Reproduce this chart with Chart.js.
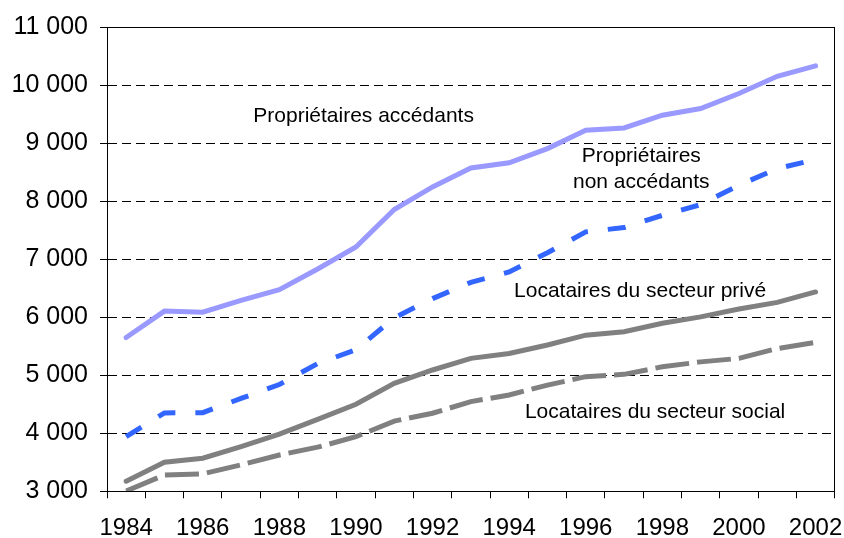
<!DOCTYPE html>
<html>
<head>
<meta charset="utf-8">
<script src="https://cdn.jsdelivr.net/npm/chart.js@4.4.1/dist/chart.umd.min.js"></script>
<style>
  html, body { margin: 0; padding: 0; background: #fff; }
  #wrap { width: 844px; height: 538px; }
</style>
</head>
<body>
<div id="wrap"><canvas id="chart"></canvas></div>
<script>
/* ======== Data ======== */
const years = ['1984', '1985', '1986', '1987', '1988', '1989', '1990', '1991', '1992', '1993',
               '1994', '1995', '1996', '1997', '1998', '1999', '2000', '2001', '2002'];
const tickYears = ['1984', '1986', '1988', '1990', '1992', '1994', '1996', '1998', '2000', '2002'];

const proprioAccedants = [5650, 6105, 6085, 6290, 6475, 6830, 7210, 7855, 8245, 8570,
                          8660, 8905, 9220, 9260, 9480, 9595, 9855, 10150, 10330];
const proprioNonAccedants = [3940, 4350, 4355, 4600, 4840, 5200, 5440, 5990, 6320, 6600,
                             6780, 7110, 7470, 7545, 7755, 7940, 8275, 8560, 8715];
const locatairesPrive = [3175, 3500, 3570, 3770, 3985, 4240, 4500, 4860, 5090, 5290,
                         5375, 5520, 5690, 5750, 5895, 6005, 6140, 6255, 6435];
const locatairesSocial = [3005, 3280, 3300, 3455, 3625, 3760, 3940, 4210, 4345, 4545,
                          4660, 4830, 4975, 5015, 5145, 5230, 5290, 5460, 5565];

const yMin = 3000, yMax = 11000, yStep = 1000;

// series labels, anchored in data space (category index, value)
const seriesLabels = [
  { text: 'Propriétaires accédants', idx: 6.2, value: 9460 },
  { text: 'Propriétaires', idx: 13.45, value: 8775 },
  { text: 'non accédants', idx: 13.45, value: 8320 },
  { text: 'Locataires du secteur privé', idx: 13.42, value: 6450 },
  { text: 'Locataires du secteur social', idx: 13.81, value: 4360 }
];

/* ======== Helpers ======== */
const FONT = "'Liberation Sans', Arial, sans-serif";
const fmt = (v) => String(v).replace(/\B(?=(\d{3})+(?!\d))/g, ' ');

const frameAndLabels = {
  id: 'frameAndLabels',
  afterDraw(chart) {
    const { ctx, chartArea: a, scales: { x, y } } = chart;
    ctx.save();
    ctx.strokeStyle = '#000';
    ctx.lineWidth = 1;
    ctx.strokeRect(Math.round(a.left) + 0.5, Math.round(a.top) + 0.5,
                   Math.round(a.right - a.left) - 1, Math.round(a.bottom - a.top));
    ctx.fillStyle = '#000';
    ctx.font = '21px ' + FONT;
    ctx.textAlign = 'center';
    ctx.textBaseline = 'middle';
    seriesLabels.forEach(l => {
      ctx.fillText(l.text, x.getPixelForValue(l.idx), y.getPixelForValue(l.value));
    });
    ctx.restore();
  }
};

/* ======== Chart ======== */
new Chart(document.getElementById('chart'), {
  type: 'line',
  data: {
    labels: years,
    datasets: [
      { label: 'Propriétaires accédants', data: proprioAccedants,
        borderColor: '#9999ff', borderWidth: 5, borderCapStyle: 'round' },
      { label: 'Propriétaires non accédants', data: proprioNonAccedants,
        borderColor: '#3366ff', borderWidth: 5, borderDash: [18, 20] },
      { label: 'Locataires du secteur privé', data: locatairesPrive,
        borderColor: '#808080', borderWidth: 5, borderCapStyle: 'round' },
      { label: 'Locataires du secteur social', data: locatairesSocial,
        borderColor: '#808080', borderWidth: 5, borderDash: [34, 8] }
    ]
  },
  options: {
    responsive: true,
    maintainAspectRatio: false,
    animation: false,
    layout: { padding: { top: 26.7, right: 9.3, bottom: 0, left: 0 } },
    elements: { point: { radius: 0 }, line: { tension: 0, fill: false } },
    plugins: { legend: { display: false }, tooltip: { enabled: false } },
    scales: {
      x: {
        offset: true,
        grid: { display: true, drawOnChartArea: false, offset: true,
                tickLength: 7, color: '#000', tickColor: '#000' },
        border: { color: '#000', width: 1 },
        ticks: {
          autoSkip: false, maxRotation: 0, padding: 16, color: '#000',
          font: { family: FONT, size: 24 },
          callback: (v, i) => tickYears.includes(years[i]) ? years[i] : ''
        },
        afterFit(s) { s.height = 46.7; s.paddingLeft = 0; s.paddingRight = 0; }
      },
      y: {
        min: yMin, max: yMax,
        grid: { color: '#000', lineWidth: 1, tickLength: 7, tickColor: '#000', tickBorderDash: [] },
        border: { color: '#000', width: 1, dash: [9, 5] },
        ticks: {
          stepSize: yStep, padding: 12, color: '#000',
          font: { family: FONT, size: 25 },
          callback: (v) => fmt(v)
        },
        afterFit(s) { s.width = 107; }
      }
    }
  },
  plugins: [frameAndLabels]
});
</script>
</body>
</html>
